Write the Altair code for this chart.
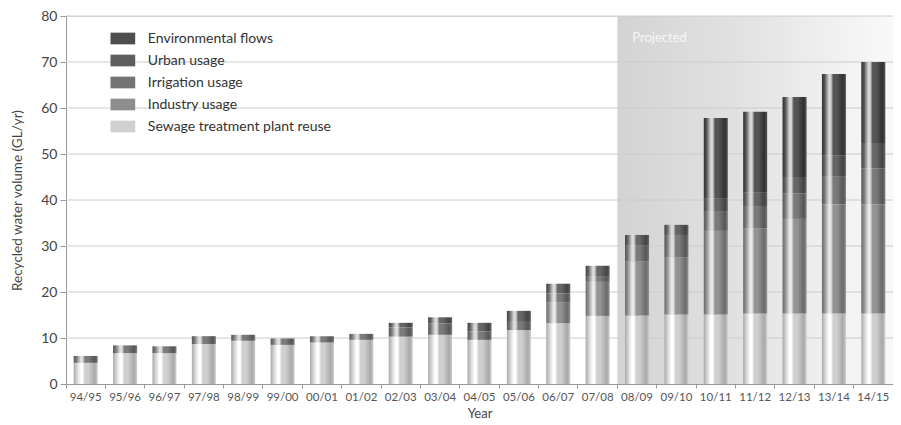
import altair as alt
import pandas as pd

# ---------------- data ----------------
years = ["94/95", "95/96", "96/97", "97/98", "98/99", "99/00", "00/01", "01/02",
         "02/03", "03/04", "04/05", "05/06", "06/07", "07/08", "08/09", "09/10",
         "10/11", "11/12", "12/13", "13/14", "14/15"]

stp_reuse = [4.6, 6.7, 6.7, 8.7, 9.4, 8.5, 9.0, 9.6, 10.3, 10.7, 9.6, 11.7,
             13.2, 14.8, 14.9, 15.1, 15.1, 15.3, 15.3, 15.3, 15.3]
industry = [0, 0, 0, 0, 0, 0, 0, 0, 0, 0, 0, 0,
            4.6, 7.4, 11.7, 12.4, 18.2, 18.5, 20.6, 23.8, 23.7]
irrigation = [1.5, 1.7, 1.5, 1.7, 1.3, 1.4, 1.4, 1.3, 2.0, 2.5, 1.8, 1.8,
              1.9, 1.1, 3.6, 4.9, 4.3, 4.9, 5.5, 6.1, 7.9]
urban = [0, 0, 0, 0, 0, 0, 0, 0, 1.0, 1.3, 1.9, 2.4,
         2.1, 2.4, 2.2, 2.2, 2.8, 3.0, 3.6, 4.5, 5.5]
environmental = [0, 0, 0, 0, 0, 0, 0, 0, 0, 0, 0, 0,
                 0, 0, 0, 0, 17.4, 17.5, 17.4, 17.7, 17.6]

legend_names = ["Environmental flows", "Urban usage", "Irrigation usage",
                "Industry usage", "Sewage treatment plant reuse"]
stack_names = ["Sewage treatment plant reuse", "Industry usage",
               "Irrigation usage", "Urban usage", "Environmental flows"]
series_values = [stp_reuse, industry, irrigation, urban, environmental]

y_ticks = [0, 10, 20, 30, 40, 50, 60, 70, 80]
grid_values = [10, 20, 30, 40, 50, 60, 70, 80]
projected_start = "08/09"
projected_end = "14/15"
projected_label = ["Projected"]

rows = []
for order, (name, vals) in enumerate(zip(stack_names, series_values)):
    for yr, v in zip(years, vals):
        rows.append({"year": yr, "series": name, "value": v, "order": order})
df = pd.DataFrame(rows)

# ---------------- styles ----------------
FONT = "Lato"
W, H = 827, 368
tones = {  # dark, mid, highlight
    "Environmental flows": ("#303030", "#555555", "#d6d6d6"),
    "Urban usage": ("#434343", "#666666", "#d8d8d8"),
    "Irrigation usage": ("#565656", "#7a7a7a", "#dddddd"),
    "Industry usage": ("#6a6a6a", "#939393", "#e8e8e8"),
    "Sewage treatment plant reuse": ("#a8a8a8", "#cfcfcf", "#ffffff"),
}
legend_colors = ["#4e4e4e", "#5e5e5e", "#737373", "#8e8e8e", "#d0d0d0"]


def bar_gradient(dark, mid, light):
    stops = [(0.0, dark), (0.12, mid), (0.29, light), (0.37, light), (0.47, mid),
             (0.62, mid), (0.88, dark), (1.0, mid)]
    return alt.Gradient(gradient="linear", x1=0, x2=1, y1=0, y2=0,
                        stops=[alt.GradientStop(color=c, offset=o) for o, c in stops])


shade_gradient = alt.Gradient(
    gradient="linear", x1=0, x2=1, y1=0, y2=0,
    stops=[alt.GradientStop(color="#d3d3d3", offset=0),
           alt.GradientStop(color="#e2e2e2", offset=0.45),
           alt.GradientStop(color="#f9f9f9", offset=1)])

xscale = alt.Scale(domain=years, paddingInner=0, paddingOuter=0)
yscale = alt.Scale(domain=[0, 80], nice=False)

xaxis = alt.Axis(title="Year", bandPosition=0, tickSize=4,
                 tickColor="#999999", domainColor="#999999", labelColor="#555555",
                 labelFont=FONT, labelFontSize=11.5, labelPadding=3, labelAngle=0,
                 titleFont=FONT, titleFontSize=13, titleFontWeight="normal",
                 titleColor="#444444", titlePadding=5, grid=False)
yaxis = alt.Axis(title="Recycled water volume (GL/yr)", values=y_ticks, grid=False,
                 tickSize=6, tickColor="#999999", domainColor="#999999",
                 labelColor="#444444", labelFont=FONT, labelFontSize=14,
                 labelPadding=3, titleFont=FONT, titleFontSize=13.5,
                 titleFontWeight="normal", titleColor="#444444", titlePadding=16)

X = alt.X("year:N", scale=xscale, axis=xaxis)
Y0 = alt.Y("v0:Q", scale=yscale, axis=yaxis)

# projected background
shade = alt.Chart(pd.DataFrame({"k": [0]})).mark_rect(color=shade_gradient).encode(
    x=alt.XDatum(projected_start, type="nominal", bandPosition=0, scale=xscale, axis=xaxis),
    x2=alt.X2Datum(projected_end, bandPosition=1),
    y=alt.YDatum(80, type="quantitative", scale=yscale, axis=yaxis),
    y2=alt.Y2Datum(0),
)

proj_text = alt.Chart(pd.DataFrame({"label": projected_label})).mark_text(
    align="left", baseline="middle", dx=15, color="#f6f6f6", font=FONT, fontSize=13
).encode(
    x=alt.XDatum(projected_start, type="nominal", bandPosition=0, scale=xscale, axis=xaxis),
    y=alt.YDatum(75.2, type="quantitative", scale=yscale, axis=yaxis),
    text="label:N",
)

grid = alt.Chart(pd.DataFrame({"g": grid_values})).mark_rule(
    color="#cccccc", strokeWidth=1
).encode(y=alt.Y("g:Q", scale=yscale, axis=yaxis))

base = alt.Chart(df).transform_stack(
    stack="value", groupby=["year"], as_=["v0", "v1"],
    sort=[alt.SortField("order", order="ascending")]
)

bar_layers = []
for name in stack_names:
    d, m, l = tones[name]
    bar_layers.append(
        base.transform_filter(alt.datum.series == name)
        .transform_filter(alt.datum.value > 0)
        .mark_rect(fill=bar_gradient(d, m, l), opacity=1, width={"band": 0.61})
        .encode(x=X, y=Y0, y2="v1:Q")
    )

legend_layer = alt.Chart(df).mark_square(opacity=0).encode(
    x=X,
    y=alt.Y("value:Q", scale=yscale, axis=yaxis),
    color=alt.Color(
        "series:N",
        scale=alt.Scale(domain=legend_names, range=legend_colors),
        legend=alt.Legend(
            title=None, orient="none", legendX=49.85, legendY=15.5,
            symbolType="M-1.9,-0.9H1.9V0.9H-1.9Z", symbolSize=169,
            symbolStrokeWidth=0, symbolOpacity=1,
            labelFont=FONT, labelFontSize=14, labelColor="#333333",
            labelOffset=18, rowPadding=8, padding=0, labelLimit=0,
        ),
    ),
)

chart = alt.layer(shade, grid, proj_text, *bar_layers, legend_layer).properties(
    width=W, height=H,
    autosize=alt.AutoSizeParams(type="none"),
    padding={"left": 58, "top": 8, "right": 0, "bottom": 40},
).configure_view(stroke=None).configure(font=FONT)

chart.save("out.html", embed_options={"renderer": "svg", "actions": False})
